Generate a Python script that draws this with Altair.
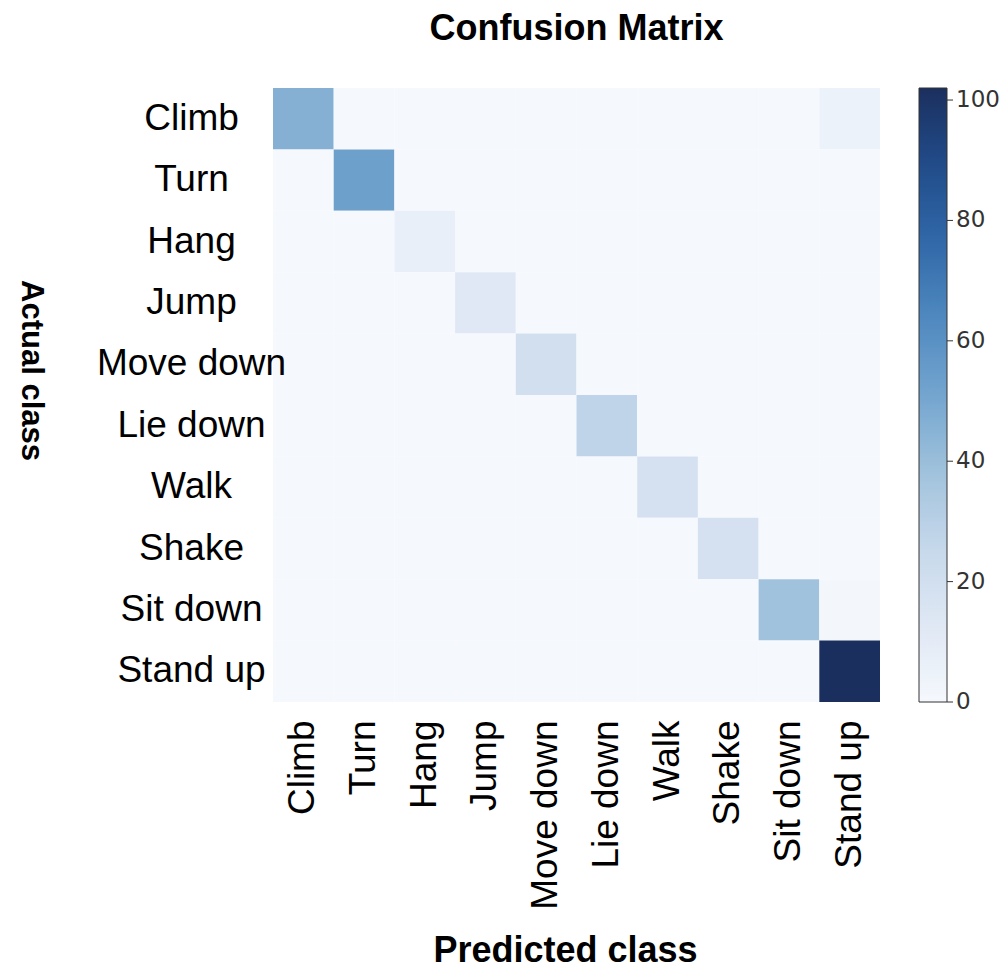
import altair as alt
import pandas as pd

# Activity classes (rows = actual, columns = predicted)
classes = ["Climb", "Turn", "Hang", "Jump", "Move down",
           "Lie down", "Walk", "Shake", "Sit down", "Stand up"]

# Correct predictions on the diagonal
diagonal_counts = [46, 53, 7, 13, 20, 28, 18, 18, 38, 102]

# Misclassifications: (actual, predicted, count)
off_diagonal = [
    ("Climb", "Stand up", 5),
    ("Sit down", "Stand up", 1),
]

# Colour bar tick values
bar_ticks = [0, 20, 40, 60, 80, 100]

# Colour ramp of the colour bar, from 0 up to the maximum count
ramp = ["#f5f8fd", "#dfe8f4", "#c6d8eb", "#a0c2dc", "#73a5cf",
        "#4f89bf", "#3068a8", "#214c8a", "#1b2f5e"]
count_max = 102

rows = []
for a in classes:
    for p in classes:
        rows.append({"actual": a, "predicted": p, "count": 0})
df = pd.DataFrame(rows)
for c, v in zip(classes, diagonal_counts):
    df.loc[(df.actual == c) & (df.predicted == c), "count"] = v
for a, p, v in off_diagonal:
    df.loc[(df.actual == a) & (df.predicted == p), "count"] = v

label_font = "Liberation Sans"
bar_x = 646          # colour bar left edge, relative to the matrix
bar_thickness = 28
count_scale = alt.Scale(domain=[0, count_max])

heatmap = alt.Chart(df).mark_rect().encode(
    x=alt.X(
        "predicted:N",
        sort=classes,
        scale=alt.Scale(paddingInner=0, paddingOuter=0),
        axis=alt.Axis(
            title="Predicted class",
            titleFont=label_font, titleFontSize=36, titleFontWeight="bold",
            titleColor="#000", titleX=292, titleY=248,
            titleAlign="center", titleBaseline="middle",
            labelFont=label_font, labelFontSize=37, labelColor="#000",
            labelAngle=270, labelAlign="right", labelBaseline="middle",
            labelPadding=18, ticks=False, domain=False, labelLimit=400,
        ),
    ),
    y=alt.Y(
        "actual:N",
        sort=classes,
        scale=alt.Scale(paddingInner=0, paddingOuter=0),
        axis=alt.Axis(
            title="Actual class",
            titleFont=label_font, titleFontSize=31, titleFontWeight="bold",
            titleColor="#000", titleAngle=90, titleX=-243, titleY=282,
            titleAlign="center", titleBaseline="middle",
            labelFont=label_font, labelFontSize=37, labelColor="#000",
            labelAlign="center", labelBaseline="middle",
            labelPadding=82, ticks=False, domain=False, labelLimit=400,
        ),
    ),
    color=alt.Color(
        "count:Q",
        scale=alt.Scale(domain=[0, count_max], range=ramp, interpolate="rgb"),
        legend=alt.Legend(
            title=None, orient="none", legendX=bar_x, legendY=0,
            direction="vertical",
            gradientLength=614, gradientThickness=bar_thickness,
            gradientStrokeColor="#333", gradientStrokeWidth=1,
            values=bar_ticks, labelExpr="''",
        ),
    ),
)

ticks_df = pd.DataFrame({"v": bar_ticks, "label": [str(t) for t in bar_ticks]})

# Small tick marks on the right edge of the colour bar
bar_tick_marks = alt.Chart(ticks_df).mark_rule(
    color="#333", strokeWidth=1
).encode(
    y=alt.Y("v:Q", scale=count_scale, axis=None),
    x=alt.value(bar_x + bar_thickness),
    x2=alt.value(bar_x + bar_thickness + 6),
)

# Colour bar tick labels
bar_tick_labels = alt.Chart(ticks_df).mark_text(
    align="left", baseline="middle", font="DejaVu Sans",
    fontSize=23, color="#333",
).encode(
    y=alt.Y("v:Q", scale=count_scale, axis=None),
    x=alt.value(bar_x + bar_thickness + 9),
    text="label:N",
)

chart = alt.layer(heatmap, bar_tick_marks, bar_tick_labels).resolve_scale(
    y="independent"
).properties(
    width=607,
    height=614,
    title=alt.TitleParams(
        "Confusion Matrix", font=label_font, fontSize=36, fontWeight="bold",
        color="#000", anchor="middle", baseline="alphabetic", offset=12,
    ),
    autosize=alt.AutoSizeParams(type="none"),
    padding={"left": 273, "top": 88, "right": 124, "bottom": 269},
).configure_view(stroke=None)

chart.save("out.html", embed_options={"renderer": "svg", "actions": False})
